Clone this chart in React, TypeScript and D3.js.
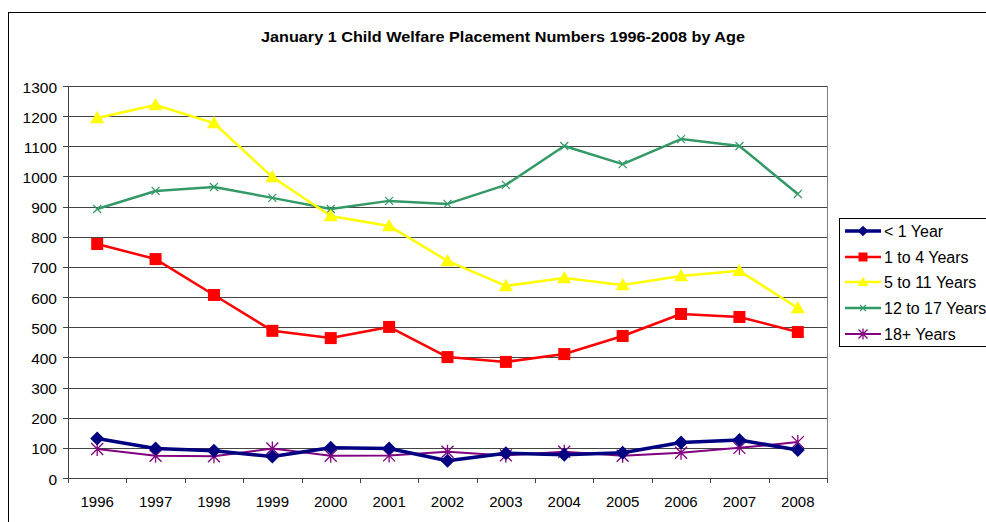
import React from "react";
import * as d3 from "d3";

const years = ["1996","1997","1998","1999","2000","2001","2002","2003","2004","2005","2006","2007","2008"];
const under1 = [131, 98, 90, 71, 100, 98, 57, 82, 77, 84, 118, 126, 93];
const oneToFour = [776, 726, 607, 488, 464, 501, 401, 385, 411, 471, 544, 534, 484];
const fiveToEleven = [1194, 1237, 1177, 998, 869, 836, 720, 637, 663, 640, 670, 687, 564];
const twelveToSeventeen = [892, 952, 965, 929, 892, 919, 909, 972, 1101, 1041, 1124, 1101, 942];
const eighteenPlus = [96, 74, 72, 98, 74, 75, 87, 75, 87, 74, 84, 100, 119];
const yTicks = [0,100,200,300,400,500,600,700,800,900,1000,1100,1200,1300];
const seriesNames = ["< 1 Year", "1 to 4 Years", "5 to 11 Years", "12 to 17 Years", "18+ Years"];
const title = "January 1 Child Welfare Placement Numbers 1996-2008 by Age";

type Style = { color: string; width: number; marker: string; size: number };
const styles: Style[] = [
  { color: "#000080", width: 3.5, marker: "diamond", size: 7 },
  { color: "#FF0000", width: 2.5, marker: "square", size: 6 },
  { color: "#FFFF00", width: 2.5, marker: "triangle", size: 7 },
  { color: "#339966", width: 2.5, marker: "x", size: 4 },
  { color: "#800080", width: 2, marker: "star", size: 6 },
];

function Marker({ x, y, s }: { x: number; y: number; s: Style }) {
  const r = s.size;
  if (s.marker === "diamond")
    return <path d={`M${x},${y - r}L${x + r},${y}L${x},${y + r}L${x - r},${y}Z`} fill={s.color} />;
  if (s.marker === "square")
    return <rect x={x - r} y={y - r} width={2 * r} height={2 * r} fill={s.color} />;
  if (s.marker === "triangle")
    return <path d={`M${x},${y - r}L${x + r},${y + r * 0.75}L${x - r},${y + r * 0.75}Z`} fill={s.color} />;
  if (s.marker === "x")
    return <path d={`M${x - r},${y - r}L${x + r},${y + r}M${x - r},${y + r}L${x + r},${y - r}`} stroke={s.color} strokeWidth={1.2} fill="none" />;
  return (
    <path
      d={`M${x - r},${y - r}L${x + r},${y + r}M${x - r},${y + r}L${x + r},${y - r}M${x},${y - r - 1}L${x},${y + r + 1}`}
      stroke={s.color}
      strokeWidth={1.3}
      fill="none"
    />
  );
}

export default function App() {
  const W = 986, H = 522;
  const left = 68, right = 827, top = 86, bottom = 478;
  const x = d3.scaleBand<string>().domain(years).range([left, right]);
  const y = d3.scaleLinear().domain([0, 1300]).range([bottom, top]);
  const data = [under1, oneToFour, fiveToEleven, twelveToSeventeen, eighteenPlus];
  const line = d3
    .line<number>()
    .x((_, i) => (x(years[i]) as number) + x.bandwidth() / 2)
    .y((d) => y(d));
  const font = "Arial, 'Liberation Sans', sans-serif";
  const drawOrder = [3, 2, 1, 4, 0];
  const legendY = [231, 257, 282, 308, 334];

  return (
    <svg width={W} height={H} style={{ position: "absolute", left: 0, top: 0, background: "#fff" }} fontFamily={font}>
      <rect x={8.5} y={12.5} width={W} height={H} fill="#fff" stroke="#000" strokeWidth={1} />
      <text x={503} y={42} textAnchor="middle" fontWeight="bold" fontSize={15.5} textLength={484} lengthAdjust="spacingAndGlyphs">{title}</text>
      {yTicks.map((t) => (
        <g key={t}>
          {t > 0 && <line x1={left} x2={right} y1={Math.round(y(t)) + 0.5} y2={Math.round(y(t)) + 0.5} stroke="#444" strokeWidth={1} />}
          <line x1={left - 5} x2={left} y1={Math.round(y(t)) + 0.5} y2={Math.round(y(t)) + 0.5} stroke="#444" />
          <text x={57} y={y(t) + 6.5} textAnchor="end" fontSize={15.5}>{t}</text>
        </g>
      ))}
      <line x1={right + 0.5} x2={right + 0.5} y1={top} y2={bottom} stroke="#808080" />
      <line x1={left + 0.5} x2={left + 0.5} y1={top} y2={bottom + 5} stroke="#444" />
      <line x1={left} x2={right + 1} y1={bottom + 0.5} y2={bottom + 0.5} stroke="#444" />
      {years.map((yr) => (
        <g key={yr}>
          <line
            x1={Math.round((x(yr) as number) + x.bandwidth()) + 0.5}
            x2={Math.round((x(yr) as number) + x.bandwidth()) + 0.5}
            y1={bottom}
            y2={bottom + 5}
            stroke="#444"
          />
          <text x={(x(yr) as number) + x.bandwidth() / 2} y={507} textAnchor="middle" fontSize={15}>{yr}</text>
        </g>
      ))}
      {drawOrder.map((k) => (
        <g key={k}>
          <path d={line(data[k]) || ""} fill="none" stroke={styles[k].color} strokeWidth={styles[k].width} strokeLinejoin="round" />
          {data[k].map((v, i) => (
            <Marker key={i} x={(x(years[i]) as number) + x.bandwidth() / 2} y={y(v)} s={styles[k]} />
          ))}
        </g>
      ))}
      <rect x={839.5} y={218.5} width={160} height={128} fill="#fff" stroke="#000" />
      {seriesNames.map((n, k) => (
        <g key={n}>
          <line x1={845} x2={881} y1={legendY[k]} y2={legendY[k]} stroke={styles[k].color} strokeWidth={styles[k].width} />
          <Marker x={863} y={legendY[k]} s={{ ...styles[k], size: styles[k].size * 0.75 }} />
          <text x={884} y={legendY[k] + 5.5} fontSize={16}>{n}</text>
        </g>
      ))}
    </svg>
  );
}
